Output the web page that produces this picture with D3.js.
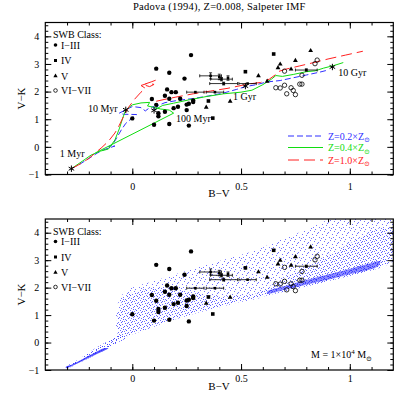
<!DOCTYPE html>
<html>
<head>
<meta charset="utf-8">
<script src="https://cdn.jsdelivr.net/npm/d3@7"></script>
<style>
  body { margin: 0; background: #fff; }
  text { font-family: "Liberation Serif", "DejaVu Serif", serif; fill: #000; }
</style>
</head>
<body>
<div id="chart"></div>
<script>
// ---- data: [B-V, V-K] ----
var swbEarly = [   // SWB class I-III (filled circles)
  [0.11,2.83],[0.27,3.32],[0.17,2.68],[0.24,2.47],[0.00,1.03],[0.09,1.73],
  [0.10,0.80],[0.17,0.83],[0.26,0.77],[0.11,1.52],[0.16,2.08],[0.15,1.85],
  [0.18,1.98],[0.20,1.98],[0.17,1.74],[0.22,1.74],[0.19,1.40],[0.21,1.45],
  [0.15,1.27],[0.12,1.22],[0.12,1.11],[0.25,1.53],[0.26,1.56],[0.25,1.33],
  [0.28,1.68],[0.28,1.62]
];
var swbIV = [[0.52,2.72],[0.65,3.36],[0.35,1.66],[0.37,1.04]];
var swbV = [[0.82,3.48],[0.75,3.12],[0.68,2.99],[0.67,2.86],[0.73,2.81],
  [0.58,2.57],[0.62,2.37],[0.45,1.65],[0.34,1.43]];
var swbOld = [[0.70,2.74],[0.85,3.14],[0.84,3.01],[0.78,2.59],[0.66,2.14],
  [0.68,2.13],[0.70,2.23],[0.73,2.14],[0.74,2.04],[0.71,1.92],[0.75,1.89],
  [0.77,2.27],[0.78,2.27]];
// points with error bars: [B-V, V-K, err B-V, err V-K]
var errPts = [[0.36,2.57,0.05,0.11],[0.40,2.53,0,0.10],[0.41,2.45,0.05,0.06],
  [0.44,2.49,0,0.08],[0.42,2.29,0.064,0.05],[0.53,2.29,0.04,0],
  [0.29,1.98,0.04,0],[0.38,1.98,0.04,0],[0.80,2.78,0.05,0.04]];

// model tracks (top panel)
var trackZ02 = [[-0.28,-0.79],[-0.24,-0.62],[-0.20,-0.42],[-0.16,-0.22],[-0.13,-0.10],
  [-0.10,-0.02],[-0.08,0.03],[-0.11,0.00],[-0.09,0.08],[-0.07,0.35],[-0.05,0.62],
  [-0.03,0.85],[0.00,1.05],[0.02,1.17],[-0.04,1.18],[-0.06,1.22],[-0.03,1.34],
  [0.00,1.46],[0.04,1.42],[0.06,1.30],[0.08,1.42],[0.10,1.46],[0.10,1.30],
  [0.12,1.50],[0.15,1.60],[0.20,1.67],[0.28,1.75],[0.35,1.84],[0.42,1.95],
  [0.48,2.08],[0.52,2.18],[0.57,2.25],[0.62,2.35],[0.68,2.40],[0.74,2.50],
  [0.80,2.60],[0.86,2.70],[0.90,2.78]];
var trackZ04a = [[-0.28,-0.79],[-0.23,-0.52],[-0.19,-0.30],[-0.15,-0.16],[-0.11,-0.08],
  [-0.08,0.25],[-0.06,0.65],[-0.045,1.02],[-0.03,1.34],[0.00,1.52],[0.04,1.59],
  [0.08,1.61],[0.07,1.48],[0.10,1.43],[0.13,1.37],[0.17,1.33],[0.19,1.22],[-0.17,-0.22]];
var trackZ04b = [[0.10,1.33],[0.14,1.50],[0.19,1.58],[0.26,1.70],[0.34,1.82],[0.42,1.92],
  [0.50,1.98],[0.55,2.05],[0.60,2.25],[0.64,2.45],[0.66,2.58],[0.69,2.55],[0.74,2.62],
  [0.80,2.72],[0.84,2.75],[0.88,2.85],[0.93,2.95],[0.97,3.05]];
var trackZ10a = [[-0.28,-0.79],[-0.24,-0.62],[-0.20,-0.42],[-0.17,-0.22],[-0.14,-0.02],
  [-0.11,0.20],[-0.08,0.50],[-0.06,0.78],[-0.04,1.10],[-0.02,1.40],[0.01,1.72],
  [0.04,1.98],[0.06,2.12],[0.04,2.22],[0.07,2.30],[0.10,2.26],[0.08,2.18],[0.05,2.25],
  [0.09,2.36],[0.12,2.45]];
var trackZ10b = [[0.11,1.65],[0.15,1.72],[0.20,1.80],[0.28,1.92],[0.36,2.02],[0.44,2.12],
  [0.50,2.22],[0.54,2.28],[0.59,2.33],[0.63,2.45],[0.66,2.62],[0.67,2.72],[0.70,2.80],
  [0.77,2.93],[0.84,3.06],[0.90,3.18],[0.98,3.32],[1.06,3.46]];

var ageNames = ["1 Myr", "10 Myr", "100 Myr", "1 Gyr", "10 Gyr"];
var agePts = [[-0.28,-0.79],[-0.03,1.34],[0.10,1.32],[0.52,2.20],[0.92,2.89]];
var ageLabelAt = [[-0.333,-0.23],[-0.204,1.38],[0.201,1.01],[0.463,1.82],[0.947,2.70]];

// simulated cluster cloud (bottom panel), outlines
var cloudOuter = [[-0.075,0.85],[-0.07,1.3],[-0.05,1.7],[-0.02,1.93],[0.03,2.08],[0.10,2.24],
  [0.18,2.44],[0.26,2.64],[0.34,2.84],[0.42,3.02],[0.50,3.2],[0.58,3.4],[0.68,3.74],
  [0.80,4.11],[0.91,4.5],[1.0,4.62],[1.12,4.62],[1.21,4.5],[1.22,4.0],[1.22,3.2],
  [1.19,2.92],[1.13,2.70],[0.99,2.41],[0.83,2.10],[0.71,1.88],[0.60,1.68],[0.48,1.45],
  [0.36,1.20],[0.25,0.97],[0.15,0.72],[0.06,0.46],[0.0,0.3],[-0.04,0.2],[-0.07,0.35]];
var cloudLobe = [[-0.07,0.6],[-0.06,1.2],[-0.04,1.6],[0.0,1.82],[0.06,1.95],[0.14,2.0],
  [0.22,1.92],[0.32,1.75],[0.42,1.68],[0.52,1.74],[0.60,1.78],[0.60,1.68],[0.48,1.45],
  [0.36,1.20],[0.25,0.97],[0.15,0.72],[0.06,0.46],[0.0,0.3],[-0.04,0.22]];
var cloudRight = [[0.55,1.62],[0.62,2.0],[0.72,2.45],[0.82,2.85],[0.92,3.25],[1.02,3.7],
  [1.10,4.05],[1.17,4.2],[1.22,3.9],[1.22,3.1],[1.18,2.88],[1.13,2.70],[0.99,2.41],
  [0.83,2.10],[0.71,1.88],[0.60,1.68]];
var cloudCore = [[0.62,1.86],[0.71,2.08],[0.83,2.34],[0.99,2.66],[1.08,2.86],[1.14,2.96],
  [1.13,2.78],[0.99,2.47],[0.83,2.16],[0.71,1.94],[0.62,1.78]];
var cloudStrip = [[-0.305,-0.95],[-0.25,-0.76],[-0.18,-0.49],[-0.12,-0.24],[-0.07,-0.02],
  [-0.03,0.18],[-0.05,0.32],[-0.10,0.10],[-0.16,-0.16],[-0.22,-0.48],[-0.28,-0.76],[-0.305,-0.86]];
var stripCore = [[-0.305,-0.93],[-0.25,-0.75],[-0.19,-0.52],[-0.13,-0.30],[-0.11,-0.21],
  [-0.13,-0.21],[-0.18,-0.40],[-0.23,-0.61],[-0.28,-0.81],[-0.305,-0.88]];

var xMajor = [0, 0.5, 1], xLabels = ["0", "0.5", "1"];
var yMajor = [-1, 0, 1, 2, 3, 4], yLabels = ["\u22121", "0", "1", "2", "3", "4"];
var xMinor = d3.range(-3, 12).map(function (i) { return i / 10; });
var yMinor = d3.range(-5, 23).map(function (i) { return i / 5; });

var blue = "#2f2fff", green = "#10dd10", red = "#ff2020";

// ---- drawing ----
var svg = d3.select("#chart").append("svg")
  .attr("width", 415).attr("height", 415);
var defs = svg.append("defs");

// stipple fills for the simulated-cluster cloud
function makePattern(id, size, dots, color) {
  var pat = defs.append("pattern").attr("id", id)
    .attr("patternUnits", "userSpaceOnUse")
    .attr("width", size).attr("height", size);
  dots.forEach(function (d) {
    pat.append("rect").attr("x", d[0]).attr("y", d[1])
      .attr("width", 1).attr("height", 1).attr("fill", color);
  });
}
makePattern("dotsA", 10, [[0,0],[4,1],[8,2],[2,4],[6,5],[9,7],[1,8],[5,9],[7,3],[3,7]], "#7070ff");
makePattern("dotsB", 10, [[2,1],[6,0],[9,4],[0,5],[4,6],[8,8],[3,9],[5,3],[1,2],[7,6]], "#5c5cff");
makePattern("dotsC", 10, [[1,0],[5,2],[9,1],[3,3],[7,4],[0,7],[4,8],[8,6],[6,9],[2,6]], "#4444ff");

var x = d3.scaleLinear().domain([-0.4, 1.2]).range([45.3, 393.3]);

svg.append("text")
  .attr("x", 219.3).attr("y", 10)
  .attr("text-anchor", "middle")
  .style("font-size", "10.5px").style("letter-spacing", "0.25px")
  .text("Padova (1994), Z=0.008, Salpeter IMF");

function drawPanel(y0, y1, name) {
  var y = d3.scaleLinear().domain([-1, 4.5]).range([y1, y0]);
  var g = svg.append("g");

  defs.append("clipPath").attr("id", "clip-" + name)
    .append("rect").attr("x", x.range()[0]).attr("y", y0)
    .attr("width", x.range()[1] - x.range()[0]).attr("height", y1 - y0);
  var plot = g.append("g").attr("clip-path", "url(#clip-" + name + ")");

  return { g: g, plot: plot, y: y, top: y0, bottom: y1 };
}

function drawAxes(p, labelPad) {
  var g = p.g, y = p.y;
  function ax(gen, tr) {
    var a = g.append("g").attr("transform", tr).call(gen);
    a.select(".domain").remove();
    a.selectAll("line").attr("stroke", "#000").attr("stroke-width", 1);
    a.selectAll("text").style("font-size", "10px")
      .style("font-family", "'Liberation Serif', 'DejaVu Serif', serif");
    return a;
  }
  var x0 = x.range()[0], x1 = x.range()[1];
  ax(d3.axisBottom(x).tickValues(xMajor).tickSize(-6).tickPadding(labelPad)
    .tickFormat(function (d, i) { return xLabels[i]; }), "translate(0," + p.bottom + ")");
  ax(d3.axisBottom(x).tickValues(xMinor).tickSize(-3).tickFormat(""), "translate(0," + p.bottom + ")");
  ax(d3.axisTop(x).tickValues(xMajor).tickSize(-6).tickFormat(""), "translate(0," + p.top + ")");
  ax(d3.axisTop(x).tickValues(xMinor).tickSize(-3).tickFormat(""), "translate(0," + p.top + ")");
  ax(d3.axisLeft(y).tickValues(yMajor).tickSize(-6).tickPadding(6)
    .tickFormat(function (d, i) { return yLabels[i]; }), "translate(" + x0 + ",0)");
  ax(d3.axisLeft(y).tickValues(yMinor).tickSize(-3).tickFormat(""), "translate(" + x0 + ",0)");
  ax(d3.axisRight(y).tickValues(yMajor).tickSize(-6).tickFormat(""), "translate(" + x1 + ",0)");
  ax(d3.axisRight(y).tickValues(yMinor).tickSize(-3).tickFormat(""), "translate(" + x1 + ",0)");

  g.append("rect").attr("x", x0).attr("y", p.top)
    .attr("width", x1 - x0).attr("height", p.bottom - p.top)
    .attr("fill", "none").attr("stroke", "#000").attr("stroke-width", 1.2);

  g.append("text").attr("x", 219).attr("y", p.bottom + labelPad + 14.5)
    .attr("text-anchor", "middle").style("font-size", "11px").text("B\u2212V");
  g.append("text")
    .attr("transform", "translate(25," + ((p.top + p.bottom) / 2) + ") rotate(-90)")
    .attr("text-anchor", "middle").style("font-size", "11px").text("V\u2212K");
}

function drawPoints(p) {
  var y = p.y, layer = p.plot;
  layer.selectAll(".c13").data(swbEarly).enter().append("circle")
    .attr("cx", function (d) { return x(d[0]); }).attr("cy", function (d) { return y(d[1]); })
    .attr("r", 2.2).attr("fill", "#000");
  layer.selectAll(".c4").data(swbIV).enter().append("rect")
    .attr("x", function (d) { return x(d[0]) - 1.8; }).attr("y", function (d) { return y(d[1]) - 1.8; })
    .attr("width", 3.6).attr("height", 3.6).attr("fill", "#000");
  layer.selectAll(".c5").data(swbV).enter().append("path")
    .attr("transform", function (d) { return "translate(" + x(d[0]) + "," + y(d[1]) + ")"; })
    .attr("d", d3.symbol(d3.symbolTriangle, 10)).attr("fill", "#000");
  layer.selectAll(".c6").data(swbOld).enter().append("circle")
    .attr("cx", function (d) { return x(d[0]); }).attr("cy", function (d) { return y(d[1]); })
    .attr("r", 2.2).attr("fill", "none").attr("stroke", "#000").attr("stroke-width", 0.8);

  var eb = layer.selectAll(".eb").data(errPts).enter().append("g")
    .attr("stroke", "#000").attr("stroke-width", 0.8);
  eb.filter(function (d) { return d[2] > 0; }).each(function (d) {
    var s = d3.select(this), cy = y(d[1]), xa = x(d[0] - d[2]), xb = x(d[0] + d[2]);
    s.append("line").attr("x1", xa).attr("x2", xb).attr("y1", cy).attr("y2", cy);
    s.append("line").attr("x1", xa).attr("x2", xa).attr("y1", cy - 1.5).attr("y2", cy + 1.5);
    s.append("line").attr("x1", xb).attr("x2", xb).attr("y1", cy - 1.5).attr("y2", cy + 1.5);
  });
  eb.filter(function (d) { return d[3] > 0; }).each(function (d) {
    var s = d3.select(this), cx = x(d[0]), ya = y(d[1] - d[3]), yb = y(d[1] + d[3]);
    s.append("line").attr("x1", cx).attr("x2", cx).attr("y1", ya).attr("y2", yb);
    s.append("line").attr("x1", cx - 1.5).attr("x2", cx + 1.5).attr("y1", ya).attr("y2", ya);
    s.append("line").attr("x1", cx - 1.5).attr("x2", cx + 1.5).attr("y1", yb).attr("y2", yb);
  });
  eb.append("rect")
    .attr("x", function (d) { return x(d[0]) - 1.3; }).attr("y", function (d) { return y(d[1]) - 1.3; })
    .attr("width", 2.6).attr("height", 2.6).attr("fill", "#000").attr("stroke", "none");
}

function drawSwbLegend(p) {
  var g = p.g, x0 = 53, t = p.top;
  g.append("text").attr("x", x0).attr("y", t + 15.5).style("font-size", "10px").text("SWB Class:");
  var rows = [["I\u2212III", t + 22.5], ["IV", t + 38], ["V", t + 53.5], ["VI\u2212VII", t + 68]];
  rows.forEach(function (r) {
    g.append("text").attr("x", x0 + 8).attr("y", r[1] + 3.5).style("font-size", "10px").text(r[0]);
  });
  g.append("circle").attr("cx", x0 + 2.5).attr("cy", rows[0][1]).attr("r", 1.8).attr("fill", "#000");
  g.append("rect").attr("x", x0 + 1).attr("y", rows[1][1] - 1.5).attr("width", 3).attr("height", 3).attr("fill", "#000");
  g.append("path").attr("transform", "translate(" + (x0 + 2.5) + "," + rows[2][1] + ")")
    .attr("d", d3.symbol(d3.symbolTriangle, 8)).attr("fill", "#000");
  g.append("circle").attr("cx", x0 + 2.5).attr("cy", rows[3][1]).attr("r", 1.8)
    .attr("fill", "none").attr("stroke", "#000").attr("stroke-width", 0.8);
}

// ---- top panel: model tracks ----
var topP = drawPanel(22.5, 174.5, "top");
var line = d3.line().x(function (d) { return x(d[0]); }).y(function (d) { return topP.y(d[1]); });
var tracks = [
  [trackZ02, blue, "6,3"], [trackZ04a, green, null], [trackZ04b, green, null],
  [trackZ10a, red, "11,5"], [trackZ10b, red, "11,5"]
];
tracks.forEach(function (t) {
  topP.plot.append("path").attr("d", line(t[0])).attr("fill", "none")
    .attr("stroke", t[1]).attr("stroke-width", 1)
    .attr("stroke-dasharray", t[2]);
});
drawPoints(topP);
topP.plot.selectAll(".age").data(agePts).enter().append("path")
  .attr("transform", function (d) { return "translate(" + x(d[0]) + "," + topP.y(d[1]) + ")"; })
  .attr("d", d3.symbol(d3.symbolAsterisk, 28)).attr("fill", "none")
  .attr("stroke", "#000").attr("stroke-width", 1);
topP.plot.selectAll(".agel").data(ageNames).enter().append("text")
  .attr("x", function (d, i) { return x(ageLabelAt[i][0]); })
  .attr("y", function (d, i) { return topP.y(ageLabelAt[i][1]) + 3.5; })
  .style("font-size", "10px").text(function (d) { return d; });

var zLegend = [["Z=0.2\u00d7Z", blue, "6,3"], ["Z=0.4\u00d7Z", green, null], ["Z=1.0\u00d7Z", red, "11,5"]];
var zRowY = [136, 147.5, 160];
zLegend.forEach(function (z, i) {
  topP.g.append("line").attr("x1", 288).attr("x2", 323).attr("y1", zRowY[i]).attr("y2", zRowY[i])
    .attr("stroke", z[1]).attr("stroke-width", 1).attr("stroke-dasharray", z[2]);
  var t = topP.g.append("text").attr("x", 328).attr("y", zRowY[i] + 3.5)
    .style("font-size", "10px").style("fill", z[1]);
  t.append("tspan").text(z[0]);
  t.append("tspan").attr("dy", 2.5).style("font-size", "7px").style("fill", z[1]).text("\u2299");
});
drawSwbLegend(topP);
drawAxes(topP, 8);

// ---- bottom panel: stochastic cluster cloud ----
var botP = drawPanel(219, 370, "bot");
var shape = d3.line().x(function (d) { return x(d[0]); }).y(function (d) { return botP.y(d[1]); })
  .curve(d3.curveCatmullRomClosed.alpha(0.5));
botP.plot.append("path").attr("d", shape(cloudOuter)).attr("fill", "url(#dotsA)");
botP.plot.append("path").attr("d", shape(cloudLobe)).attr("fill", "url(#dotsB)");
botP.plot.append("path").attr("d", shape(cloudRight)).attr("fill", "url(#dotsB)");
botP.plot.append("path").attr("d", shape(cloudCore)).attr("fill", "url(#dotsC)");
botP.plot.append("path").attr("d", shape(cloudCore)).attr("fill", "#2a2aff").attr("opacity", 0.55);
botP.plot.append("path").attr("d", shape(cloudStrip)).attr("fill", "url(#dotsB)");
botP.plot.append("path").attr("d", shape(cloudStrip)).attr("fill", "url(#dotsC)");
botP.plot.append("path").attr("d", shape(stripCore)).attr("fill", "#2a2aff").attr("opacity", 0.8);
drawPoints(botP);
drawSwbLegend(botP);

var mt = botP.g.append("text").attr("x", 311).attr("y", 358).style("font-size", "10px");
mt.append("tspan").text("M = 1\u00d710");
mt.append("tspan").attr("dy", -4).style("font-size", "7px").text("4");
mt.append("tspan").attr("dy", 4).text(" M");
mt.append("tspan").attr("dy", 2.5).style("font-size", "7px").text("\u2299");
drawAxes(botP, 5);
</script>
</body>
</html>
